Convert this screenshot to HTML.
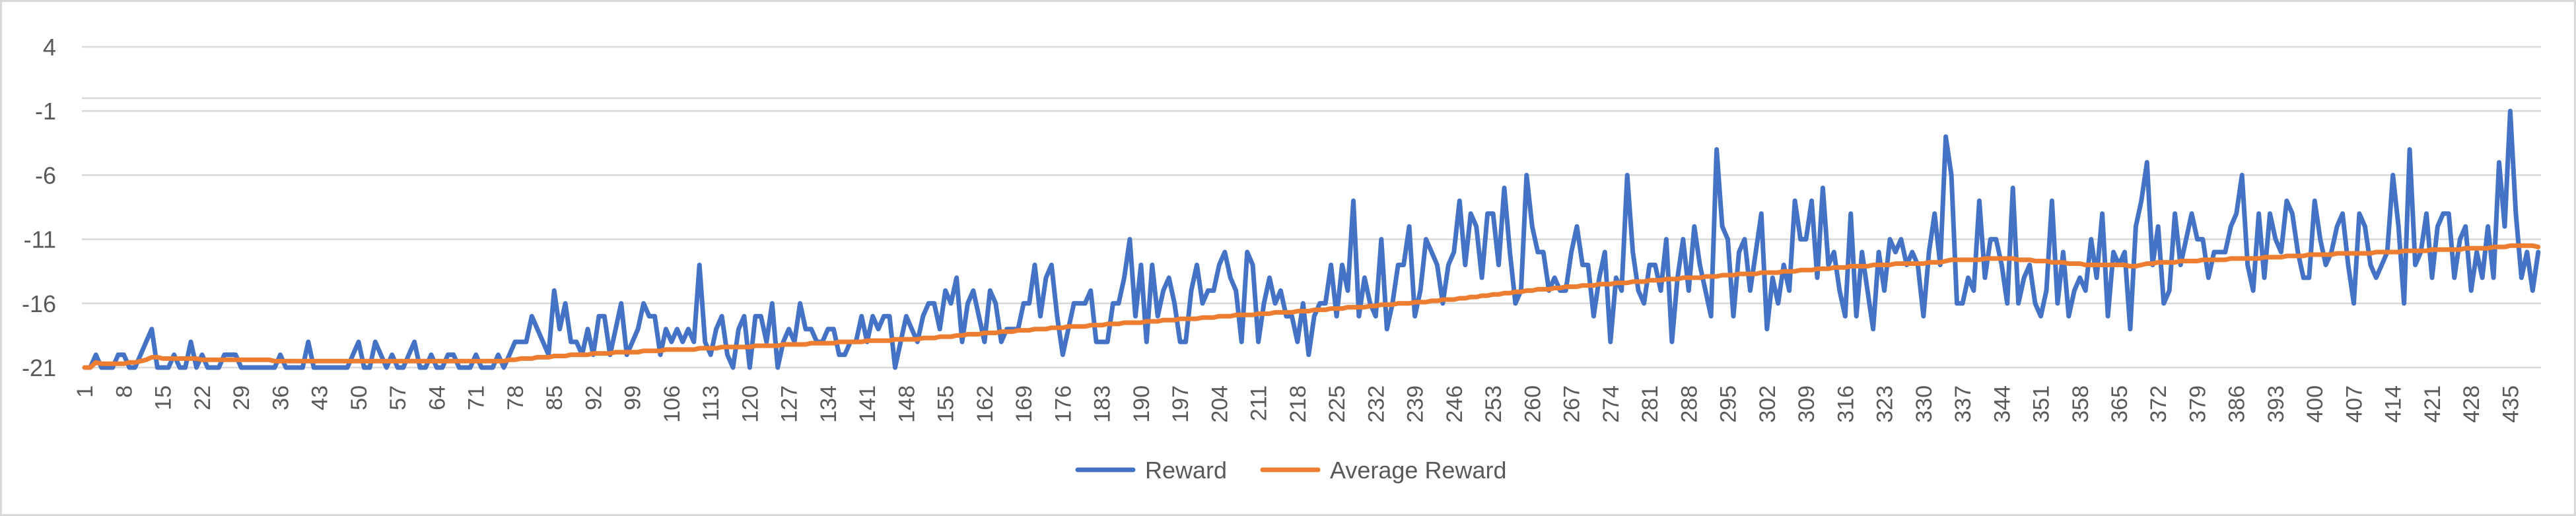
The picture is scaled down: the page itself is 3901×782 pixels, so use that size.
<!DOCTYPE html>
<html><head><meta charset="utf-8"><style>
html,body{margin:0;padding:0;background:#fff;}
svg{display:block;font-family:"Liberation Sans",Arial,sans-serif;}
</style></head><body>
<svg id="chart" width="3901" height="782" viewBox="0 0 3901 782" xmlns="http://www.w3.org/2000/svg">
<rect x="1.5" y="1.5" width="3898" height="779" fill="#fff" stroke="#d9d9d9" stroke-width="3"/>
<g id="grid"></g>
<g id="ylabels"></g>
<g id="xlabels"></g>
<g id="series"></g>
<g>
<g>
<line x1="1632" y1="712" x2="1716" y2="712" stroke="#4472C4" stroke-width="7" stroke-linecap="round"/>
<text x="1734" y="725" font-size="36" fill="#595959">Reward</text>
</g>
<g>
<line x1="1912" y1="712" x2="1996" y2="712" stroke="#ED7D31" stroke-width="7" stroke-linecap="round"/>
<text x="2014" y="725" font-size="36" fill="#595959">Average Reward</text>
</g>
</g>
</svg>
<script>
const rewardValues = [
-21,-21,-20,-21,-21,-21,-20,-20,-21,-21,
-20,-19,-18,-21,-21,-21,-20,-21,-21,-19,
-21,-20,-21,-21,-21,-20,-20,-20,-21,-21,
-21,-21,-21,-21,-21,-20,-21,-21,-21,-21,
-19,-21,-21,-21,-21,-21,-21,-21,-20,-19,
-21,-21,-19,-20,-21,-20,-21,-21,-20,-19,
-21,-21,-20,-21,-21,-20,-20,-21,-21,-21,
-20,-21,-21,-21,-20,-21,-20,-19,-19,-19,
-17,-18,-19,-20,-15,-18,-16,-19,-19,-20,
-18,-20,-17,-17,-20,-18,-16,-20,-19,-18,
-16,-17,-17,-20,-18,-19,-18,-19,-18,-19,
-13,-19,-20,-18,-17,-20,-21,-18,-17,-21,
-17,-17,-19,-16,-21,-19,-18,-19,-16,-18,
-18,-19,-19,-18,-18,-20,-20,-19,-19,-17,
-19,-17,-18,-17,-17,-21,-19,-17,-18,-19,
-17,-16,-16,-18,-15,-16,-14,-19,-16,-15,
-17,-19,-15,-16,-19,-18,-18,-18,-16,-16,
-13,-17,-14,-13,-17,-20,-18,-16,-16,-16,
-15,-19,-19,-19,-16,-16,-14,-11,-17,-13,
-19,-13,-17,-15,-14,-16,-19,-19,-15,-13,
-16,-15,-15,-13,-12,-14,-15,-19,-12,-13,
-19,-16,-14,-16,-15,-17,-17,-19,-16,-20,
-17,-16,-16,-13,-17,-13,-15,-8,-17,-14,
-16,-17,-11,-18,-16,-13,-13,-10,-17,-15,
-11,-12,-13,-16,-13,-12,-8,-13,-9,-10,
-14,-9,-9,-13,-7,-12,-16,-15,-6,-10,
-12,-12,-15,-14,-15,-15,-12,-10,-13,-13,
-17,-14,-12,-19,-14,-15,-6,-12,-15,-16,
-13,-13,-15,-11,-19,-14,-11,-15,-10,-13,
-15,-17,-4,-10,-11,-17,-12,-11,-15,-12,
-9,-18,-14,-16,-13,-15,-8,-11,-11,-8,
-14,-7,-13,-12,-15,-17,-9,-17,-12,-15,
-18,-12,-15,-11,-12,-11,-13,-12,-13,-17,
-12,-9,-13,-3,-6,-16,-16,-14,-15,-8,
-14,-11,-11,-13,-16,-7,-16,-14,-13,-16,
-17,-15,-8,-16,-12,-17,-15,-14,-15,-11,
-14,-9,-17,-12,-13,-12,-18,-10,-8,-5,
-13,-10,-16,-15,-9,-13,-11,-9,-11,-11,
-14,-12,-12,-12,-10,-9,-6,-13,-15,-9,
-14,-9,-11,-12,-8,-9,-12,-14,-14,-8,
-11,-13,-12,-10,-9,-13,-16,-9,-10,-13,
-14,-13,-12,-6,-10,-16,-4,-13,-12,-9,
-14,-10,-9,-9,-14,-11,-10,-15,-12,-14,
-10,-14,-5,-10,-1,-9,-14,-12,-15,-12
];
const averageValues = [
-21,-21,-20.6,-20.7,-20.7,-20.7,-20.7,-20.7,-20.6,-20.6,
-20.5,-20.4,-20.2,-20.2,-20.3,-20.3,-20.3,-20.3,-20.3,-20.3,
-20.3,-20.4,-20.4,-20.4,-20.4,-20.4,-20.4,-20.4,-20.4,-20.4,
-20.4,-20.4,-20.4,-20.4,-20.5,-20.5,-20.5,-20.5,-20.5,-20.5,
-20.5,-20.5,-20.5,-20.5,-20.5,-20.5,-20.5,-20.5,-20.5,-20.5,
-20.5,-20.5,-20.5,-20.5,-20.5,-20.5,-20.5,-20.5,-20.5,-20.5,
-20.5,-20.5,-20.5,-20.5,-20.5,-20.5,-20.5,-20.5,-20.5,-20.5,
-20.5,-20.5,-20.5,-20.5,-20.5,-20.5,-20.4,-20.4,-20.3,-20.3,
-20.3,-20.2,-20.2,-20.2,-20.1,-20.1,-20.1,-20.0,-20.0,-20.0,
-20.0,-19.9,-19.9,-19.9,-19.9,-19.8,-19.8,-19.8,-19.8,-19.8,
-19.7,-19.7,-19.7,-19.7,-19.6,-19.6,-19.6,-19.6,-19.6,-19.6,
-19.5,-19.5,-19.5,-19.5,-19.4,-19.4,-19.4,-19.4,-19.4,-19.4,
-19.3,-19.3,-19.3,-19.3,-19.3,-19.2,-19.2,-19.2,-19.2,-19.2,
-19.1,-19.1,-19.1,-19.1,-19.1,-19.0,-19.0,-19.0,-19.0,-19.0,
-18.9,-18.9,-18.9,-18.9,-18.9,-18.8,-18.8,-18.8,-18.8,-18.8,
-18.7,-18.7,-18.7,-18.6,-18.6,-18.6,-18.5,-18.5,-18.4,-18.4,
-18.4,-18.3,-18.3,-18.3,-18.2,-18.2,-18.2,-18.1,-18.1,-18.1,
-18.0,-18.0,-18.0,-17.9,-17.9,-17.9,-17.8,-17.8,-17.8,-17.8,
-17.7,-17.7,-17.7,-17.6,-17.6,-17.6,-17.5,-17.5,-17.5,-17.5,
-17.4,-17.4,-17.4,-17.3,-17.3,-17.3,-17.2,-17.2,-17.2,-17.2,
-17.1,-17.1,-17.1,-17.0,-17.0,-17.0,-16.9,-16.9,-16.9,-16.9,
-16.8,-16.8,-16.8,-16.7,-16.7,-16.7,-16.7,-16.6,-16.6,-16.6,
-16.5,-16.5,-16.5,-16.4,-16.4,-16.4,-16.3,-16.3,-16.3,-16.3,
-16.2,-16.2,-16.1,-16.1,-16.1,-16.0,-16.0,-16.0,-15.9,-15.9,
-15.9,-15.8,-15.8,-15.7,-15.7,-15.7,-15.6,-15.6,-15.5,-15.5,
-15.4,-15.4,-15.3,-15.3,-15.2,-15.2,-15.1,-15.1,-15.0,-15.0,
-14.9,-14.9,-14.9,-14.8,-14.8,-14.7,-14.7,-14.7,-14.6,-14.6,
-14.6,-14.5,-14.5,-14.5,-14.4,-14.4,-14.4,-14.3,-14.3,-14.3,
-14.2,-14.2,-14.2,-14.1,-14.1,-14.1,-14.0,-14.0,-14.0,-14.0,
-13.9,-13.9,-13.9,-13.8,-13.8,-13.8,-13.7,-13.7,-13.7,-13.7,
-13.6,-13.6,-13.6,-13.6,-13.5,-13.5,-13.5,-13.4,-13.4,-13.4,
-13.3,-13.3,-13.3,-13.2,-13.2,-13.2,-13.1,-13.1,-13.1,-13.1,
-13.0,-13.0,-13.0,-13.0,-12.9,-12.9,-12.9,-12.9,-12.9,-12.9,
-12.8,-12.8,-12.8,-12.7,-12.6,-12.6,-12.6,-12.6,-12.6,-12.6,
-12.5,-12.5,-12.5,-12.5,-12.5,-12.5,-12.6,-12.6,-12.6,-12.7,
-12.7,-12.7,-12.8,-12.8,-12.8,-12.9,-12.9,-12.9,-13.0,-13.0,
-13.0,-13.0,-13.0,-13.0,-13.0,-13.0,-13.1,-13.1,-13.0,-12.9,
-12.9,-12.8,-12.8,-12.8,-12.8,-12.7,-12.7,-12.7,-12.7,-12.6,
-12.6,-12.6,-12.6,-12.6,-12.5,-12.5,-12.5,-12.5,-12.5,-12.5,
-12.4,-12.4,-12.4,-12.4,-12.3,-12.3,-12.3,-12.3,-12.2,-12.2,
-12.2,-12.2,-12.2,-12.1,-12.1,-12.1,-12.1,-12.1,-12.1,-12.1,
-12.0,-12.0,-12.0,-12.0,-12.0,-11.9,-11.9,-11.9,-11.9,-11.9,
-11.8,-11.8,-11.8,-11.8,-11.8,-11.8,-11.7,-11.7,-11.7,-11.7,
-11.7,-11.6,-11.6,-11.6,-11.5,-11.5,-11.5,-11.5,-11.5,-11.6
];
const yTicks = [4, -1, -6, -11, -16, -21];
const yExtraGrid = [0];
const xLabelStep = 7;

const NS = "http://www.w3.org/2000/svg";
const plotL = 124, plotR = 3848;
const yMin = -21, yTop = 4;
const yPixMin = 557, yPixTop = 71;
const n = rewardValues.length;
const step = (plotR - plotL) / n;
function xPos(i) { return plotL + step * (i + 0.5); }
function yPos(v) { return yPixMin - (v - yMin) * (yPixMin - yPixTop) / (yTop - yMin); }

const grid = document.getElementById('grid');
const allGrid = yTicks.concat(yExtraGrid);
allGrid.forEach(v => {
  const l = document.createElementNS(NS, 'line');
  l.setAttribute('x1', plotL); l.setAttribute('x2', plotR);
  l.setAttribute('y1', yPos(v)); l.setAttribute('y2', yPos(v));
  l.setAttribute('stroke', '#d9d9d9'); l.setAttribute('stroke-width', '2.5');
  
  
  grid.appendChild(l);
});

const yl = document.getElementById('ylabels');
yTicks.forEach(v => {
  const t = document.createElementNS(NS, 'text');
  t.setAttribute('x', 85); t.setAttribute('y', yPos(v) + 13);
  t.setAttribute('text-anchor', 'end'); t.setAttribute('font-size', '36');
  t.setAttribute('fill', '#595959');
  t.textContent = String(v);
  
  
  yl.appendChild(t);
});

const xl = document.getElementById('xlabels');
for (let i = 0; i < n; i += xLabelStep) {
  const x = xPos(i);
  const t = document.createElementNS(NS, 'text');
  t.setAttribute('transform', 'translate(' + (x + 12) + ',584) rotate(-90)');
  t.setAttribute('text-anchor', 'end'); t.setAttribute('font-size', '34');
  t.setAttribute('fill', '#595959');
  t.textContent = String(i + 1);
  
  
  xl.appendChild(t);
}

const ser = document.getElementById('series');
function drawLine(vals, color, name) {
  const p = document.createElementNS(NS, 'polyline');
  p.setAttribute('points', vals.map((v, i) => xPos(i).toFixed(1) + ',' + yPos(v).toFixed(1)).join(' '));
  p.setAttribute('fill', 'none'); p.setAttribute('stroke', color);
  p.setAttribute('stroke-width', '7'); p.setAttribute('stroke-linejoin', 'round');
  p.setAttribute('stroke-linecap', 'round');
  
  
  ser.appendChild(p);
}
drawLine(rewardValues, '#4472C4', 'reward-line');
drawLine(averageValues, '#ED7D31', 'average-reward-line');
</script>
</body></html>
